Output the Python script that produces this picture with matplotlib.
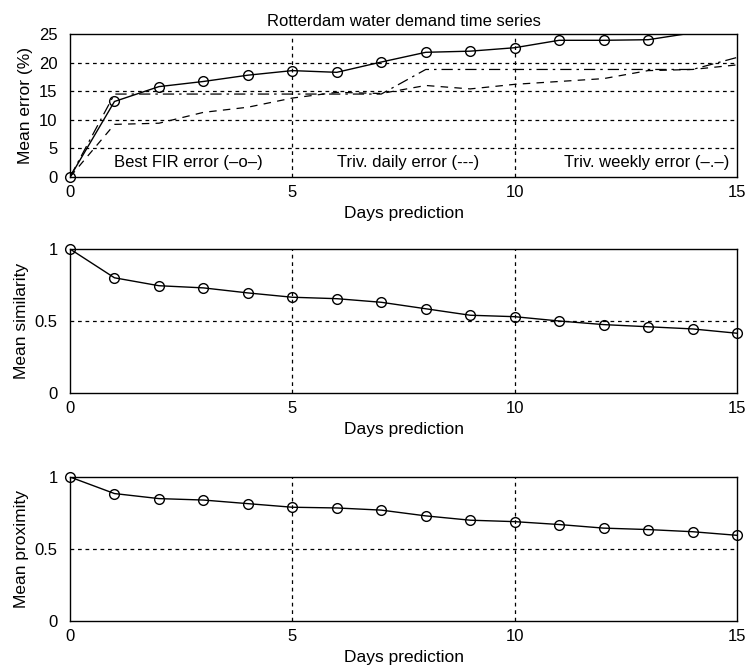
from matplotlib import pyplot as plt
import numpy as np

plt.rcParams['font.family'] = ['Liberation Sans', 'DejaVu Sans']

days = np.arange(0, 16)

fir_error = [0, 13.2, 15.8, 16.7, 17.8, 18.6, 18.3, 20.1, 21.8, 22.0, 22.6, 23.9, 23.9, 24.0, 25.2, 26.2]
daily_error = [0, 9.2, 9.4, 11.3, 12.2, 13.8, 14.8, 14.6, 16.0, 15.4, 16.2, 16.7, 17.2, 18.6, 18.8, 19.6]
weekly_error = [0, 14.5, 14.5, 14.5, 14.5, 14.5, 14.5, 14.5, 18.8, 18.8, 18.8, 18.8, 18.8, 18.8, 18.8, 20.9]

similarity = [1.0, 0.80, 0.745, 0.73, 0.695, 0.665, 0.655, 0.63, 0.585, 0.54, 0.53, 0.50, 0.475, 0.46, 0.445, 0.415]
proximity = [1.0, 0.885, 0.85, 0.84, 0.815, 0.79, 0.785, 0.77, 0.73, 0.70, 0.69, 0.67, 0.645, 0.635, 0.62, 0.595]

W, H = 749, 669
fig = plt.figure(figsize=(W / 100, H / 100), dpi=100)

def make_axes(top_px, bot_px):
	left = 70 / W
	right = 737 / W
	return fig.add_axes([left, 1 - bot_px / H, right - left, (bot_px - top_px) / H])

def style(ax, ymax, yticks, ylabel):
	ax.set_xlim(0, 15)
	ax.set_ylim(0, ymax)
	ax.set_xticks([0, 5, 10, 15])
	ax.set_yticks(yticks)
	ax.set_yticklabels([('%g' % v) for v in yticks])
	ax.tick_params(length=0, labelsize=12)
	ax.tick_params(axis='y', pad=9)
	ax.tick_params(axis='x', pad=6)
	for v in [5, 10]:
		ax.axvline(v, color='k', linestyle=(0, (3, 3)), linewidth=0.9, zorder=1)
	for v in yticks[1:-1]:
		ax.axhline(v, color='k', linestyle=(0, (3, 3)), linewidth=0.9, zorder=1)
	for s in ax.spines.values():
		s.set_linewidth(1.0)
	ax.set_xlabel('Days prediction', fontsize=12.5, labelpad=4)
	ax.set_ylabel(ylabel, fontsize=12.5, labelpad=4)

def plot_marked(ax, y, ymax):
	y = np.asarray(y)
	ax.plot(days, y, color='k', linewidth=1.0, zorder=3)
	keep = y <= ymax
	ax.plot(days[keep], y[keep], linestyle='none', marker='o', markersize=7,
		markerfacecolor='none', markeredgecolor='k', markeredgewidth=1.0,
		clip_on=False, zorder=4)

# top panel: errors
ax1 = make_axes(34, 177)
style(ax1, 25, [0, 5, 10, 15, 20, 25], 'Mean error (%)')
ax1.plot(days, daily_error, color='k', linewidth=0.9, linestyle=(0, (6, 5)), zorder=2)
ax1.plot(days, weekly_error, color='k', linewidth=0.9, linestyle=(0, (9, 4, 2, 4)), zorder=2)
plot_marked(ax1, fir_error, 25)
ax1.set_title('Rotterdam water demand time series', fontsize=12, pad=6)
ax1.text(1.0, 2.6, 'Best FIR error (\u2013o\u2013)', fontsize=12, va='center')
ax1.text(6.0, 2.6, 'Triv. daily error (---)', fontsize=12, va='center')
ax1.text(11.1, 2.6, 'Triv. weekly error (\u2013.\u2013)', fontsize=12, va='center')

# middle panel: similarity
ax2 = make_axes(249, 393)
style(ax2, 1, [0, 0.5, 1], 'Mean similarity')
plot_marked(ax2, similarity, 1)

# bottom panel: proximity
ax3 = make_axes(477, 621)
style(ax3, 1, [0, 0.5, 1], 'Mean proximity')
plot_marked(ax3, proximity, 1)

plt.savefig('out.png', dpi=100)
